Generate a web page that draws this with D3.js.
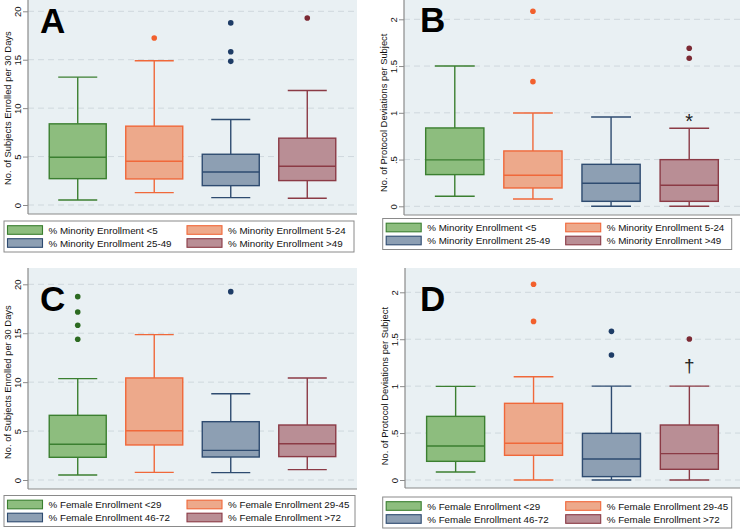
<!DOCTYPE html>
<html>
<head>
<meta charset="utf-8">
<script src="https://cdn.jsdelivr.net/npm/d3@7/dist/d3.min.js"></script>
<style>
  html, body { margin: 0; padding: 0; background: #ffffff; }
  svg { display: block; font-family: "Liberation Sans", Arial, Helvetica, sans-serif; }
</style>
</head>
<body>
<svg id="chart" width="740" height="529"></svg>
<script>
// ---------- data ----------
const minorityGroups = ["% Minority Enrollment <5", "% Minority Enrollment 5-24", "% Minority Enrollment 25-49", "% Minority Enrollment >49"];
const femaleGroups = ["% Female Enrollment <29", "% Female Enrollment 29-45", "% Female Enrollment 46-72", "% Female Enrollment >72"];

const enrollTicks = [0, 5, 10, 15, 20];
const enrollTickLabels = ["0", "5", "10", "15", "20"];
const devTicks = [0, 0.5, 1, 1.5, 2];
const devTickLabels = ["0", ".5", "1", "1.5", "2"];

const enrollTitle = "No. of Subjects Enrolled per 30 Days";
const devTitle = "No. of Protocol Deviations per Subject";

// Panel A: subjects enrolled per 30 days by % minority enrollment
const A_low = [0.52, 1.28, 0.76, 0.69];
const A_q1 = [2.72, 2.69, 2.0, 2.52];
const A_median = [4.93, 4.52, 3.41, 4.0];
const A_q3 = [8.38, 8.14, 5.24, 6.9];
const A_high = [13.2, 14.9, 8.83, 11.83];
const A_outliers = [[], [17.24], [18.8, 15.83, 14.83], [19.31]];

// Panel B: protocol deviations per subject by % minority enrollment
const B_low = [0.107, 0.078, 0.0, 0.0];
const B_q1 = [0.339, 0.196, 0.053, 0.053];
const B_median = [0.496, 0.332, 0.246, 0.225];
const B_q3 = [0.838, 0.592, 0.449, 0.499];
const B_high = [1.5, 0.998, 0.955, 0.834];
const B_outliers = [[], [2.086, 1.333], [], [1.69, 1.583]];
const B_marks = ["", "", "", "*"];
const B_markValues = [null, null, null, 0.84];

// Panel C: subjects enrolled per 30 days by % female enrollment
const C_low = [0.51, 0.78, 0.75, 1.06];
const C_q1 = [2.32, 3.58, 2.35, 2.39];
const C_median = [3.65, 5.04, 3.03, 3.71];
const C_q3 = [6.61, 10.43, 5.96, 5.62];
const C_high = [10.36, 14.86, 8.82, 10.43];
const C_outliers = [[18.74, 17.17, 15.81, 14.38], [], [19.25], []];

// Panel D: protocol deviations per subject by % female enrollment
const D_low = [0.085, 0.0, 0.0, 0.0];
const D_q1 = [0.199, 0.263, 0.036, 0.114];
const D_median = [0.362, 0.391, 0.224, 0.281];
const D_q3 = [0.678, 0.817, 0.497, 0.586];
const D_high = [0.998, 1.10, 1.0, 1.0];
const D_outliers = [[], [2.085, 1.69], [1.584, 1.332], [1.503]];
const D_marks = ["", "", "", "†"];
const D_markValues = [null, null, null, 1.15];

// ---------- style ----------
const fills = ["#8dbd7e", "#eda98b", "#8d9fb3", "#b98e95"];
const strokes = ["#3b7f30", "#f0683a", "#2e4b70", "#8b3a45"];
const dotColors = ["#2c6a21", "#f2602d", "#1e3c66", "#7c2a34"];
const plotBg = "#e9f0f3";
const gridColor = "#cfd8dd";
const axisColor = "#8a8a8a";

const svg = d3.select("#chart");

function drawPanel(cfg) {
  const g = svg.append("g");
  const x = d3.scalePoint().domain(cfg.groups).range([cfg.x0, cfg.x1]).padding(0.65);
  const y = d3.scaleLinear().domain([cfg.ticks[0], cfg.ticks[cfg.ticks.length - 1]]).range([cfg.yZero, cfg.yMax]);
  const step = x.step();
  const boxW = step * 0.745;
  const capW = step * 0.51;

  g.append("rect")
    .attr("x", cfg.x0).attr("y", cfg.top)
    .attr("width", cfg.x1 - cfg.x0).attr("height", cfg.bottom - cfg.top)
    .attr("fill", plotBg);

  g.selectAll("line.grid").data(cfg.ticks).join("line")
    .attr("class", "grid")
    .attr("x1", cfg.x0).attr("x2", cfg.x1)
    .attr("y1", d => y(d)).attr("y2", d => y(d))
    .attr("stroke", gridColor).attr("stroke-width", 1)
    .attr("stroke-dasharray", "6,4");

  const axis = d3.axisLeft(y).tickValues(cfg.ticks)
    .tickFormat((d, i) => cfg.tickLabels[i]).tickSize(5).tickPadding(0);
  const ag = g.append("g").attr("transform", `translate(${cfg.x0},0)`).call(axis);
  ag.select(".domain").remove();
  ag.selectAll(".tick line").attr("stroke", axisColor);
  ag.selectAll(".tick text")
    .attr("transform", "rotate(-90)")
    .attr("x", 0).attr("y", -7).attr("dy", 0)
    .attr("text-anchor", "middle")
    .attr("fill", "#111")
    .style("font-size", "9.5px")
    .style("font-family", "'Liberation Sans', Arial, sans-serif");

  g.append("line").attr("x1", cfg.x0).attr("x2", cfg.x0).attr("y1", cfg.top).attr("y2", cfg.bottom)
    .attr("stroke", axisColor).attr("stroke-width", 1.2);
  g.append("line").attr("x1", cfg.x0).attr("x2", cfg.x1).attr("y1", cfg.bottom).attr("y2", cfg.bottom)
    .attr("stroke", axisColor).attr("stroke-width", 1.2);

  const midY = (y(cfg.ticks[0]) + y(cfg.ticks[cfg.ticks.length - 1])) / 2;
  g.append("text")
    .attr("transform", `translate(${cfg.x0 - 17.3},${midY}) rotate(-90)`)
    .attr("text-anchor", "middle")
    .attr("fill", "#111")
    .style("font-size", "9.4px")
    .text(cfg.title);

  const idx = d3.range(cfg.groups.length);
  const bg = g.selectAll("g.box").data(idx).join("g").attr("class", "box");
  bg.each(function(i) {
    const s = d3.select(this);
    const cx = x(cfg.groups[i]);
    s.append("line").attr("x1", cx).attr("x2", cx).attr("y1", y(cfg.high[i])).attr("y2", y(cfg.q3[i]))
      .attr("stroke", strokes[i]).attr("stroke-width", 1.4);
    s.append("line").attr("x1", cx).attr("x2", cx).attr("y1", y(cfg.q1[i])).attr("y2", y(cfg.low[i]))
      .attr("stroke", strokes[i]).attr("stroke-width", 1.4);
    s.append("line").attr("x1", cx - capW / 2).attr("x2", cx + capW / 2).attr("y1", y(cfg.high[i])).attr("y2", y(cfg.high[i]))
      .attr("stroke", strokes[i]).attr("stroke-width", 1.4);
    s.append("line").attr("x1", cx - capW / 2).attr("x2", cx + capW / 2).attr("y1", y(cfg.low[i])).attr("y2", y(cfg.low[i]))
      .attr("stroke", strokes[i]).attr("stroke-width", 1.4);
    s.append("rect").attr("x", cx - boxW / 2).attr("width", boxW)
      .attr("y", y(cfg.q3[i])).attr("height", y(cfg.q1[i]) - y(cfg.q3[i]))
      .attr("fill", fills[i]).attr("stroke", strokes[i]).attr("stroke-width", 1.4);
    s.append("line").attr("x1", cx - boxW / 2).attr("x2", cx + boxW / 2)
      .attr("y1", y(cfg.median[i])).attr("y2", y(cfg.median[i]))
      .attr("stroke", strokes[i]).attr("stroke-width", 1.4);
    s.selectAll("circle").data(cfg.outliers[i]).join("circle")
      .attr("cx", cx).attr("cy", d => y(d)).attr("r", 2.8)
      .attr("fill", dotColors[i]);
    if (cfg.marks && cfg.marks[i]) {
      s.append("text")
        .attr("x", cx).attr("y", y(cfg.markValues[i]))
        .attr("text-anchor", "middle")
        .attr("fill", "#222")
        .style("font-size", cfg.markSize)
        .text(cfg.marks[i]);
    }
  });

  g.append("text")
    .attr("x", cfg.letterX).attr("y", cfg.letterY)
    .attr("fill", "#000")
    .style("font-size", "35px").style("font-weight", "bold")
    .text(cfg.letter);

  const lg = g.append("g").attr("transform", `translate(${cfg.legX},${cfg.legY})`);
  lg.append("rect").attr("x", 0).attr("y", 0).attr("width", cfg.legW).attr("height", 31)
    .attr("fill", "#fff").attr("stroke", "#8a8a8a").attr("stroke-width", 1);
  const colSw = [3.5, 183], colTx = [44.5, 224], rowY = [9, 22];
  idx.forEach(i => {
    const c = i % 2, r = Math.floor(i / 2);
    lg.append("rect").attr("x", colSw[c]).attr("y", rowY[r] - 4.3).attr("width", 35).attr("height", 8.6)
      .attr("fill", fills[i]).attr("stroke", strokes[i]).attr("stroke-width", 1.1);
    lg.append("text").attr("x", colTx[c]).attr("y", rowY[r] + 3.5)
      .attr("fill", "#111").style("font-size", "9.8px")
      .text(cfg.groups[i]);
  });
}

drawPanel({
  letter: "A", letterX: 40, letterY: 33,
  groups: minorityGroups, ticks: enrollTicks, tickLabels: enrollTickLabels, title: enrollTitle,
  x0: 28, x1: 357, top: 0, bottom: 214, yZero: 205, yMax: 11.3,
  low: A_low, q1: A_q1, median: A_median, q3: A_q3, high: A_high, outliers: A_outliers,
  legX: 4, legY: 221, legW: 350
});
drawPanel({
  letter: "B", letterX: 420, letterY: 32,
  groups: minorityGroups, ticks: devTicks, tickLabels: devTickLabels, title: devTitle,
  x0: 404, x1: 740, top: 0, bottom: 215, yZero: 206.3, yMax: 19.3,
  low: B_low, q1: B_q1, median: B_median, q3: B_q3, high: B_high, outliers: B_outliers,
  marks: B_marks, markValues: B_markValues, markSize: "20px",
  legX: 382.7, legY: 218.5, legW: 349
});
drawPanel({
  letter: "C", letterX: 40, letterY: 311,
  groups: femaleGroups, ticks: enrollTicks, tickLabels: enrollTickLabels, title: enrollTitle,
  x0: 28, x1: 357, top: 268, bottom: 489, yZero: 480, yMax: 284.3,
  low: C_low, q1: C_q1, median: C_median, q3: C_q3, high: C_high, outliers: C_outliers,
  legX: 4, legY: 495.5, legW: 351
});
drawPanel({
  letter: "D", letterX: 420, letterY: 311,
  groups: femaleGroups, ticks: devTicks, tickLabels: devTickLabels, title: devTitle,
  x0: 405, x1: 740, top: 268, bottom: 488, yZero: 480, yMax: 292.3,
  low: D_low, q1: D_q1, median: D_median, q3: D_q3, high: D_high, outliers: D_outliers,
  marks: D_marks, markValues: D_markValues, markSize: "19px",
  legX: 382.7, legY: 497, legW: 349
});
</script>
</body>
</html>
